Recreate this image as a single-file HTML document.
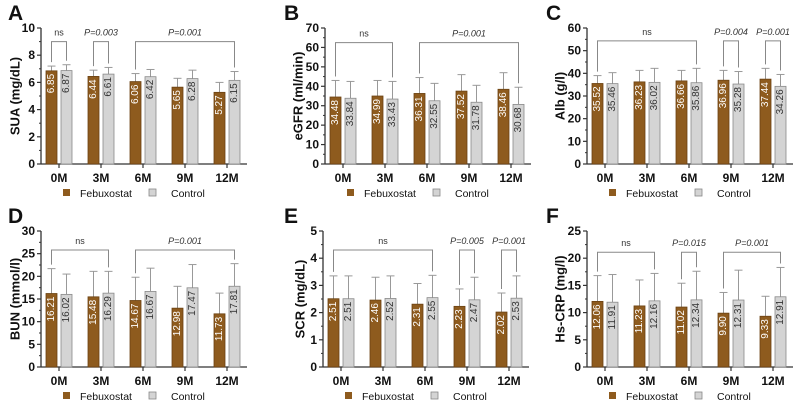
<!DOCTYPE html>
<html><head><meta charset="utf-8"><style>
body{margin:0;background:#fff;}
svg{display:block;font-family:"Liberation Sans",Arial,sans-serif;}
</style></head><body>
<svg id="chart" width="796" height="401" viewBox="0 0 796 401" xmlns="http://www.w3.org/2000/svg"></svg>
<script>
const categories = ["0M","3M","6M","9M","12M"];
const seriesNames = ["Febuxostat","Control"];
// Panel A: SUA
const suaFeb = [6.85,6.44,6.06,5.65,5.27];
const suaCtl = [6.87,6.61,6.42,6.28,6.15];
const suaFebErr = [7.2,6.9,6.65,6.3,6.0];
const suaCtlErr = [7.3,7.1,6.95,6.9,6.8];
const suaTicks = [0,2,4,6,8,10];
// Panel B: eGFR
const egfrFeb = [34.48,34.99,36.31,37.52,38.46];
const egfrCtl = [33.84,33.43,32.55,31.78,30.68];
const egfrFebErr = [43,43,44.5,46,47];
const egfrCtlErr = [42.5,42.5,41.5,40.5,39.5];
const egfrTicks = [0,10,20,30,40,50,60,70];
// Panel C: Alb
const albFeb = [35.52,36.23,36.66,36.96,37.44];
const albCtl = [35.46,36.02,35.86,35.28,34.26];
const albFebErr = [39,41.3,41.3,41.3,42.2];
const albCtlErr = [40.3,42.2,42.2,40.8,39.5];
const albTicks = [0,10,20,30,40,50,60];
// Panel D: BUN
const bunFeb = [16.21,15.48,14.67,12.98,11.73];
const bunCtl = [16.02,16.29,16.67,17.47,17.81];
const bunFebErr = [21.7,21.1,19.8,17.8,16.3];
const bunCtlErr = [20.5,21.1,21.8,22.6,22.8];
const bunTicks = [0,5,10,15,20,25,30];
// Panel E: SCR
const scrFeb = [2.51,2.46,2.31,2.23,2.02];
const scrCtl = [2.51,2.52,2.55,2.47,2.53];
const scrFebErr = [3.35,3.3,3.07,2.87,2.72];
const scrCtlErr = [3.35,3.35,3.37,3.3,3.35];
const scrTicks = [0,1,2,3,4,5];
// Panel F: Hs-CRP
const crpFeb = [12.06,11.23,11.02,9.90,9.33];
const crpCtl = [11.91,12.16,12.34,12.31,12.91];
const crpFebErr = [16.8,16,15.4,13.7,13];
const crpCtlErr = [17,17.2,17.6,17.8,18.3];
const crpTicks = [0,5,10,15,20,25];

const panels = [
 {id:"a",letter:"A",title:"SUA (mg/dL)",feb:suaFeb,ctl:suaCtl,fe:suaFebErr,ce:suaCtlErr,ticks:suaTicks,ax:41,top:28,lx:8,tx:15,bv:9.0,
  br:[[0,0,0,1,"ns",false],[1,0,1,1,"P=0.003",true],[2,0,4,1,"P=0.001",true]]},
 {id:"b",letter:"B",title:"eGFR (ml/min)",feb:egfrFeb,ctl:egfrCtl,fe:egfrFebErr,ce:egfrCtlErr,ticks:egfrTicks,ax:325,top:28,lx:284,tx:298,bv:62.5,
  br:[[0,0,1,1,"ns",false],[2,0,4,1,"P=0.001",true]]},
 {id:"c",letter:"C",title:"Alb (g/l)",feb:albFeb,ctl:albCtl,fe:albFebErr,ce:albCtlErr,ticks:albTicks,ax:587,top:28,lx:546,tx:560,bv:54.3,
  br:[[0,0,2,1,"ns",false],[3,0,3,1,"P=0.004",true],[4,0,4,1,"P=0.001",true]]},
 {id:"d",letter:"D",title:"BUN (mmol/l)",feb:bunFeb,ctl:bunCtl,fe:bunFebErr,ce:bunCtlErr,ticks:bunTicks,ax:41,top:231,lx:8,tx:15,bv:25.8,
  br:[[0,0,1,1,"ns",false],[2,0,4,1,"P=0.001",true]]},
 {id:"e",letter:"E",title:"SCR (mg/dL)",feb:scrFeb,ctl:scrCtl,fe:scrFebErr,ce:scrCtlErr,ticks:scrTicks,ax:323,top:231,lx:284,tx:300,bv:4.3,
  br:[[0,0,2,1,"ns",false],[3,0,3,1,"P=0.005",true],[4,0,4,1,"P=0.001",true]]},
 {id:"f",letter:"F",title:"Hs-CRP (mg/l)",feb:crpFeb,ctl:crpCtl,fe:crpFebErr,ce:crpCtlErr,ticks:crpTicks,ax:587,top:231,lx:546,tx:560,bv:21.1,
  br:[[0,0,1,1,"ns",false],[2,0,2,1,"P=0.015",true],[3,0,4,1,"P=0.001",true]]}
];

const NS="http://www.w3.org/2000/svg";
const svg=document.getElementById("chart");
function mk(tag,attrs,parent,text){const e=document.createElementNS(NS,tag);for(const k in attrs)e.setAttribute(k,attrs[k]);if(text!==undefined)e.textContent=text;parent.appendChild(e);return e;}
const FEB="#8e5b1e", CTL="#d4d4d4", AXC="#333";
const H=136, BW=11;

panels.forEach(p=>{
  const g=mk("g",{},svg);
  
  
  const bottom=p.top+H;
  const maxV=p.ticks[p.ticks.length-1];
  const y=v=>bottom-v/maxV*H;
  const cx=i=>p.ax+18+i*42;
  const bx=(i,s)=>s===0?cx(i)-13:cx(i)+2;
  const L=mk("text",{x:p.lx,y:p.top-8,"font-size":21,"font-weight":"bold",fill:"#111"},g,p.letter);
  
  
  const T=mk("text",{x:p.tx,y:(p.top+bottom)/2,"font-size":13,"font-weight":"bold",fill:"#111","text-anchor":"middle",transform:`rotate(-90 ${p.tx} ${(p.top+bottom)/2})`,"dominant-baseline":"central"},g,p.title);
  
  
  const ya=mk("line",{x1:p.ax,y1:p.top,x2:p.ax,y2:bottom,stroke:AXC,"stroke-width":1.3},g);
  
  
  const xa=mk("line",{x1:p.ax,y1:bottom,x2:p.ax+206,y2:bottom,stroke:AXC,"stroke-width":1.3},g);
  
  
  p.ticks.forEach((t,k)=>{
    mk("line",{x1:p.ax-4,y1:y(t),x2:p.ax,y2:y(t),stroke:AXC,"stroke-width":1.2},g);
    if(k<p.ticks.length-1){const mv=(t+p.ticks[k+1])/2;mk("line",{x1:p.ax-2,y1:y(mv),x2:p.ax,y2:y(mv),stroke:AXC,"stroke-width":1},g);}
    const tl=mk("text",{x:p.ax-6,y:y(t)+4,"font-size":12,"font-weight":"bold","text-anchor":"end",fill:"#111"},g,String(t));
    
    
  });
  categories.forEach((c,i)=>{
    mk("line",{x1:cx(i),y1:bottom,x2:cx(i),y2:bottom+4,stroke:AXC,"stroke-width":1.2},g);
    const xl=mk("text",{x:cx(i),y:bottom+18,"font-size":12,"font-weight":"bold","text-anchor":"middle",fill:"#111"},g,c);
    
    
    [[p.feb,p.fe,FEB,"#6b4212","#fff"],[p.ctl,p.ce,CTL,"#8a8a8a","#333"]].forEach((sd,s)=>{
      const v=sd[0][i], e=sd[1][i], x0=bx(i,s), xm=x0+BW/2;
      const el=mk("line",{x1:xm,y1:y(v),x2:xm,y2:y(e),stroke:"#999","stroke-width":1},g);
      
      
      mk("line",{x1:xm-4,y1:y(e),x2:xm+4,y2:y(e),stroke:"#999","stroke-width":1},g);
      const r=mk("rect",{x:x0,y:y(v),width:BW,height:bottom-y(v),fill:sd[2],stroke:sd[3],"stroke-width":0.8},g);
      
      
      const ty=y(v)+3;
      const vl=mk("text",{x:xm,y:ty,"font-size":10,fill:sd[4],"text-anchor":"end","dominant-baseline":"central",transform:`rotate(-90 ${xm} ${ty})`},g,v.toFixed(2));
      
      
    });
  });
  const by=y(p.bv);
  p.br.forEach(b=>{
    const x1=bx(b[0],b[1])+BW/2, x2=bx(b[2],b[3])+BW/2;
    const e1=(b[1]===0?p.fe:p.ce)[b[0]], e2=(b[3]===0?p.fe:p.ce)[b[2]];
    const pth=mk("path",{d:`M${x1} ${y(e1)-4}V${by}H${x2}V${y(e2)-4}`,fill:"none",stroke:"#888","stroke-width":1},g);
    
    
    const bl=mk("text",{x:(x1+x2)/2,y:by-6,"font-size":9,"font-style":b[5]?"italic":"normal",fill:"#333","text-anchor":"middle"},g,b[4]);
    
    
  });
  const ly=bottom+29;
  const lg=mk("g",{},g);
  
  
  mk("rect",{x:p.ax+22,y:ly-4,width:7,height:7,fill:FEB},lg);
  const l1=mk("text",{x:p.ax+39,y:ly+4,"font-size":10.5,fill:"#111"},lg,seriesNames[0]);
  
  
  mk("rect",{x:p.ax+108,y:ly-4,width:7,height:7,fill:CTL,stroke:"#888","stroke-width":0.8},lg);
  const l2=mk("text",{x:p.ax+130,y:ly+4,"font-size":10.5,fill:"#111"},lg,seriesNames[1]);
  
  
});
</script>
</body></html>
